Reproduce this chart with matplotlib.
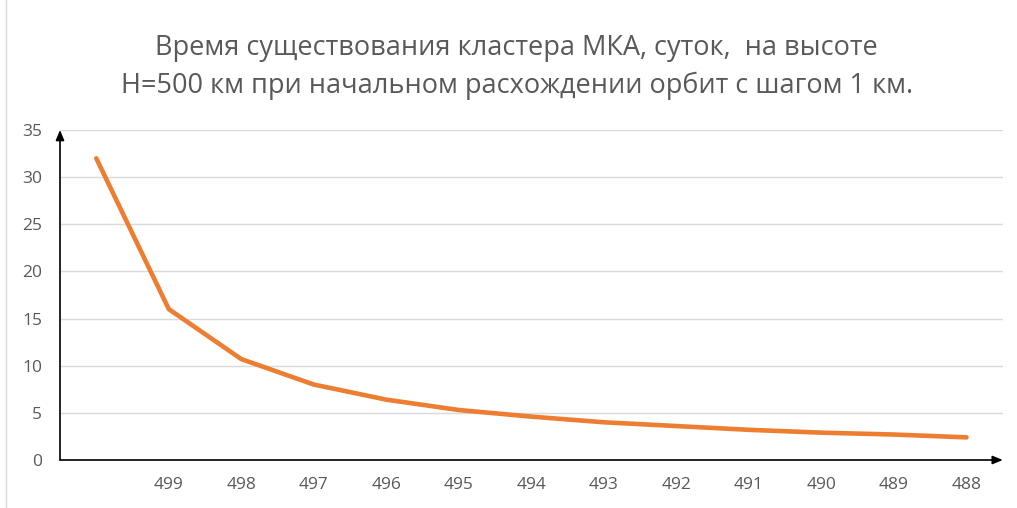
import numpy as np
import matplotlib.pyplot as plt

# высота орбиты, км (первая точка без подписи)
heights = ["", "499", "498", "497", "496", "495", "494",
           "493", "492", "491", "490", "489", "488"]
# время существования кластера, сут
days = [32, 16, 10.7, 8, 6.4, 5.3, 4.6, 4.0, 3.6, 3.2, 2.9, 2.7, 2.4]

plt.rcParams['font.family'] = ['Open Sans', 'DejaVu Sans']
gray = "#595959"

fig = plt.figure(figsize=(10.17, 5.08), dpi=100)
ax = fig.add_axes([0.059, 0.0945, 0.927, 0.6496])

x = np.arange(len(days))
ax.plot(x, days, color="#ED7D31", linewidth=3.3, solid_capstyle="round")

ax.set_xlim(-0.5, 12.5)
ax.set_ylim(0, 35)
ax.set_xticks(x)
ax.set_xticklabels(heights)
ax.set_yticks(np.arange(0, 36, 5))
ax.tick_params(axis="both", length=0, colors=gray, labelsize=12.5)
ax.tick_params(axis="x", pad=12)
ax.tick_params(axis="y", pad=13)
ax.grid(axis="y", color="#d9d9d9", linewidth=1)
ax.set_axisbelow(True)
for s in ax.spines.values():
    s.set_visible(False)

# оси со стрелками
arrow = dict(arrowstyle="-|>,head_length=0.6,head_width=0.25", color="black",
             lw=1.2, shrinkA=0, shrinkB=0)
ax.annotate("", xy=(0, 1.0), xytext=(0, 0), xycoords="axes fraction",
            arrowprops=arrow, annotation_clip=False)
ax.annotate("", xy=(1.0, 0), xytext=(0, 0), xycoords="axes fraction",
            arrowprops=arrow, annotation_clip=False)

fig.text(0.508, 0.868, "Время существования кластера МКА, суток,  на высоте\n"
         "H=500 км при начальном расхождении орбит с шагом 1 км.",
         ha="center", va="center", fontsize=19.5, color=gray, linespacing=1.45)

fig.add_artist(plt.Line2D([0.006, 0.006], [0, 1], color="#d9d9d9", lw=1))

fig.savefig("out.png", dpi=100)
